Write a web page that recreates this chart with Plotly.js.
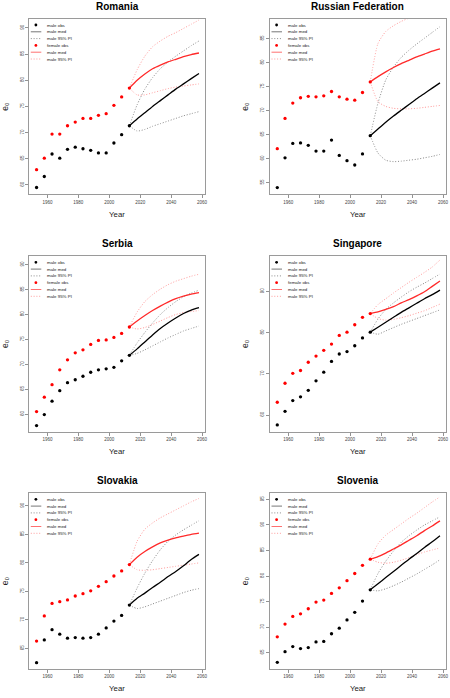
<!DOCTYPE html>
<html><head><meta charset="utf-8">
<script src="https://cdn.plot.ly/plotly-3.0.1.min.js"></script>
<style>html,body{margin:0;padding:0;background:#fff}#chart{width:450px;height:698px}</style>
</head><body><div id="chart"></div>
<script>
// ---- data ----
const obsYears  = [1953,1958,1963,1968,1973,1978,1983,1988,1993,1998,2003,2008,2013];
const projYears = [2013,2018,2023,2028,2033,2038,2043,2048,2053,2058];
const xTickVals = [1960,1980,2000,2020,2040,2060];

const countryNames = ['Romania','Russian Federation','Serbia','Singapore','Slovakia','Slovenia'];

const romaniaMaleObs    = [59.5,61.6,65.9,65.1,66.8,67.2,66.9,66.6,66.1,66.1,68.0,69.6,71.3];
const romaniaFemaleObs  = [62.9,65.1,69.7,69.7,71.3,72.0,72.7,72.7,73.3,73.6,75.2,76.8,78.5];
const romaniaMaleMed    = [71.3,72.6,73.8,75.0,76.1,77.2,78.3,79.3,80.3,81.3];
const romaniaMaleLow    = [71.3,70.3,70.6,71.2,71.7,72.2,72.7,73.2,73.6,74.0];
const romaniaMaleHigh   = [71.3,75.3,78.3,80.5,82.2,83.5,84.6,85.6,86.6,87.5];
const romaniaFemaleMed  = [78.5,80.0,81.2,82.2,82.9,83.5,84.0,84.5,84.9,85.2];
const romaniaFemaleLow  = [78.5,77.2,77.2,77.6,78.0,78.4,78.7,78.9,79.1,79.3];
const romaniaFemaleHigh = [78.5,82.0,84.6,86.4,87.5,88.4,89.1,89.9,90.7,91.5];

const russiaMaleObs    = [54.0,60.2,63.2,63.3,62.8,61.6,61.6,63.9,60.7,59.6,58.7,61.0,64.8];
const russiaFemaleObs  = [62.1,68.4,71.6,72.7,73.0,72.9,73.1,74.0,72.9,72.4,72.2,73.8,76.0];
const russiaMaleMed    = [64.8,66.2,67.6,68.9,70.1,71.3,72.5,73.6,74.7,75.8];
const russiaMaleLow    = [64.8,61.2,59.7,59.4,59.5,59.7,59.9,60.2,60.5,60.9];
const russiaMaleHigh   = [64.8,71.6,76.4,79.1,81.1,82.6,83.9,85.1,86.3,87.5];
const russiaFemaleMed  = [76.0,77.1,78.1,79.0,79.8,80.5,81.2,81.8,82.4,82.9];
const russiaFemaleLow  = [76.0,71.9,70.9,70.5,70.4,70.4,70.5,70.7,70.9,71.1];
const russiaFemaleHigh = [76.0,84.0,86.5,87.7,88.6,89.3,90.0,90.5,91.0,91.4];

const serbiaMaleObs    = [57.7,59.9,62.6,64.7,66.3,66.9,67.6,68.4,68.9,69.1,69.4,70.7,71.8];
const serbiaFemaleObs  = [60.5,63.4,65.9,68.9,70.9,72.3,72.9,74.0,74.8,74.9,75.4,76.2,77.5];
const serbiaMaleMed    = [71.8,73.1,74.5,75.9,77.2,78.3,79.3,80.2,80.9,81.4];
const serbiaMaleLow    = [71.8,72.2,72.9,73.7,74.5,75.3,76.0,76.7,77.2,77.7];
const serbiaMaleHigh   = [71.8,74.3,76.4,78.3,80.0,81.4,82.6,83.6,84.3,84.9];
const serbiaFemaleMed  = [77.5,78.7,79.8,80.8,81.7,82.5,83.2,83.7,84.1,84.4];
const serbiaFemaleLow  = [77.5,77.1,77.4,78.0,78.7,79.4,80.0,80.4,80.6,80.8];
const serbiaFemaleHigh = [77.5,80.5,82.6,84.0,85.1,86.0,86.7,87.2,87.7,88.1];

const singaporeMaleObs    = [57.6,60.9,63.5,64.4,66.0,68.3,70.4,73.0,74.8,75.4,76.8,78.7,80.1];
const singaporeFemaleObs  = [63.1,67.7,70.1,70.8,72.8,74.3,75.7,77.2,79.3,80.1,81.9,83.7,84.6];
const singaporeMaleMed    = [80.1,81.3,82.5,83.7,84.9,86.0,87.1,88.2,89.2,90.3];
const singaporeMaleLow    = [80.1,79.6,80.4,81.2,82.0,82.7,83.4,84.1,84.8,85.5];
const singaporeMaleHigh   = [80.1,83.3,85.6,87.2,88.6,89.9,91.0,92.0,93.1,94.2];
const singaporeFemaleMed  = [84.6,85.0,85.6,86.3,87.2,88.0,88.9,89.9,91.2,92.5];
const singaporeFemaleLow  = [84.6,83.4,83.0,83.2,83.6,84.1,84.7,85.3,86.1,86.9];
const singaporeFemaleHigh = [84.6,86.8,88.2,89.6,90.9,92.2,93.4,94.6,95.9,97.6];

const slovakiaMaleObs    = [62.5,66.5,68.3,67.5,66.8,66.9,66.8,66.9,67.5,68.6,69.8,70.8,72.6];
const slovakiaFemaleObs  = [66.3,70.7,72.9,73.2,73.5,74.2,74.6,75.1,75.9,76.7,77.7,78.6,79.7];
const slovakiaMaleMed    = [72.6,73.8,74.7,75.7,76.6,77.6,78.5,79.5,80.6,81.5];
const slovakiaMaleLow    = [72.6,72.0,72.3,72.8,73.3,73.8,74.3,74.8,75.2,75.5];
const slovakiaMaleHigh   = [72.6,75.6,78.2,80.4,82.3,83.8,84.9,85.8,86.6,87.4];
const slovakiaFemaleMed  = [79.7,81.0,82.0,82.8,83.5,84.0,84.4,84.7,85.0,85.2];
const slovakiaFemaleLow  = [79.7,78.8,78.7,78.8,79.0,79.2,79.4,79.6,79.8,80.0];
const slovakiaFemaleHigh = [79.7,83.8,85.9,87.0,87.9,88.6,89.3,90.0,90.7,91.3];

const sloveniaMaleObs    = [63.1,65.2,66.2,65.8,66.0,67.1,67.2,68.7,69.8,71.4,72.9,75.1,77.3];
const sloveniaFemaleObs  = [68.1,70.6,72.1,72.6,73.6,74.9,75.3,76.6,77.7,79.1,80.5,82.1,83.3];
const sloveniaMaleMed    = [77.3,78.5,79.7,80.9,82.1,83.3,84.4,85.6,86.7,87.9];
const sloveniaMaleLow    = [77.3,77.1,77.5,78.1,78.8,79.6,80.4,81.3,82.2,83.2];
const sloveniaMaleHigh   = [77.3,80.5,82.9,84.9,86.6,87.9,89.0,90.0,90.8,91.6];
const sloveniaFemaleMed  = [83.3,83.8,84.5,85.3,86.1,87.0,87.9,88.9,89.8,90.8];
const sloveniaFemaleLow  = [83.3,82.7,82.5,82.7,83.1,83.6,84.2,84.7,85.1,85.5];
const sloveniaFemaleHigh = [83.3,86.3,88.0,89.1,90.2,91.3,92.3,93.4,94.5,95.5];

const yRanges = [[58.2,91.7],[52.6,89.1],[56.5,91.7],[56.0,98.5],[61.4,92.2],[61.8,96.2]];
const yTickVals = [
  [60,65,70,75,80,85,90],[55,60,65,70,75,80,85],[60,65,70,75,80,85,90],
  [60,70,80,90],[65,70,75,80,85,90],[65,70,75,80,85,90,95]
];
const legendLabels = ['male obs','male med','male 95% PI','female obs','male med','male 95% PI'];

// ---- build ----
const countries = [
  [romaniaMaleObs,romaniaFemaleObs,romaniaMaleMed,romaniaMaleLow,romaniaMaleHigh,romaniaFemaleMed,romaniaFemaleLow,romaniaFemaleHigh],
  [russiaMaleObs,russiaFemaleObs,russiaMaleMed,russiaMaleLow,russiaMaleHigh,russiaFemaleMed,russiaFemaleLow,russiaFemaleHigh],
  [serbiaMaleObs,serbiaFemaleObs,serbiaMaleMed,serbiaMaleLow,serbiaMaleHigh,serbiaFemaleMed,serbiaFemaleLow,serbiaFemaleHigh],
  [singaporeMaleObs,singaporeFemaleObs,singaporeMaleMed,singaporeMaleLow,singaporeMaleHigh,singaporeFemaleMed,singaporeFemaleLow,singaporeFemaleHigh],
  [slovakiaMaleObs,slovakiaFemaleObs,slovakiaMaleMed,slovakiaMaleLow,slovakiaMaleHigh,slovakiaFemaleMed,slovakiaFemaleLow,slovakiaFemaleHigh],
  [sloveniaMaleObs,sloveniaFemaleObs,sloveniaMaleMed,sloveniaMaleLow,sloveniaMaleHigh,sloveniaFemaleMed,sloveniaFemaleLow,sloveniaFemaleHigh]
];

const W = 450, H = 698;
const colDom = [[29.3/W, 204.7/W],[270/W, 445.7/W]];
const rowDom = [[1-194.3/H, 1-19/H],[1-431.5/H, 1-256.3/H],[1-669/H, 1-493.3/H]];

const BLACK='#000000', GRAY='#8a8a8a', RED='#ff0000', REDLINE='#ff2a2a', PINK='#ff9c9c';
const DOTS = '1px,1.8px';
const FONT = 'Liberation Sans, Arial, Helvetica, sans-serif';

const data = [];
const layout = {
  width: W, height: H, margin:{l:0,r:0,t:0,b:0},
  paper_bgcolor:'#fff', plot_bgcolor:'#fff', showlegend:false,
  font:{family:FONT, color:'#000'},
  annotations:[], shapes:[]
};

countries.forEach((c, i) => {
  const [mObs,fObs,mMed,mLow,mHigh,fMed,fLow,fHigh] = c;
  const r = Math.floor(i/2), col = i%2;
  const xn = i===0 ? 'x' : 'x'+(i+1);
  const yn = i===0 ? 'y' : 'y'+(i+1);
  const xk = i===0 ? 'xaxis' : 'xaxis'+(i+1);
  const yk = i===0 ? 'yaxis' : 'yaxis'+(i+1);
  const line = (y, color, width, dash) => ({
    type:'scatter', mode:'lines', x:projYears, y:y, xaxis:xn, yaxis:yn,
    line:{color:color, width:width, dash:dash, shape:'spline', smoothing:0.6}, hoverinfo:'skip'
  });
  data.push(line(fLow, PINK, 1, DOTS));
  data.push(line(fHigh, PINK, 1, DOTS));
  data.push(line(mLow, GRAY, 1, DOTS));
  data.push(line(mHigh, GRAY, 1, DOTS));
  data.push(line(mMed, BLACK, 1.3, 'solid'));
  data.push(line(fMed, REDLINE, 1.3, 'solid'));
  data.push({type:'scatter', mode:'markers', x:obsYears, y:mObs, xaxis:xn, yaxis:yn,
    marker:{color:BLACK, size:3.3}, hoverinfo:'skip'});
  data.push({type:'scatter', mode:'markers', x:obsYears, y:fObs, xaxis:xn, yaxis:yn,
    marker:{color:RED, size:3.3}, hoverinfo:'skip'});

  layout[xk] = {
    domain: colDom[col], anchor: yn, range:[1948.3, 2061.7],
    tickmode:'array', tickvals:xTickVals, ticks:'outside', ticklen:3, tickwidth:0.8, tickcolor:'#777',
    tickfont:{size:4.5, color:'#444', family:FONT},
    showline:true, mirror:true, linecolor:'#9a9a9a', linewidth:1,
    showgrid:false, zeroline:false,
    title:{text:'Year', font:{size:7.8, color:'#222', family:FONT}, standoff:7}
  };
  layout[yk] = {
    domain: rowDom[r], anchor: xn, range: yRanges[i],
    tickmode:'array', tickvals:yTickVals[i], ticks:'outside', ticklen:3, tickwidth:0.8, tickcolor:'#777',
    tickangle:-90, tickfont:{size:4.5, color:'#444', family:FONT},
    showline:true, mirror:true, linecolor:'#9a9a9a', linewidth:1,
    showgrid:false, zeroline:false,
    title:{text:'e\u2080', font:{size:8.5, color:'#222', family:FONT}, standoff:10}
  };

  // panel title
  layout.annotations.push({
    text: countryNames[i], xref: xn+' domain', yref: yn+' domain', x:0.5, y:1,
    xanchor:'center', yanchor:'middle', yshift:13, showarrow:false,
    font:{size:10, family:FONT, weight:'bold', color:'#000'}
  });

  // legend (manual, compact like the original)
  const legColors = [BLACK, '#777', GRAY, RED, '#ff7070', PINK];
  const legKind = ['dot','line','dash','dot','line','dash'];
  legendLabels.forEach((lab, k) => {
    const off = 6 + 6.8*k;
    if (legKind[k]==='dot') {
      layout.shapes.push({type:'circle', xref:xn+' domain', yref:yn+' domain',
        xsizemode:'pixel', ysizemode:'pixel', xanchor:0, yanchor:1,
        x0:5.2, x1:8, y0:-off-1.4, y1:-off+1.4,
        fillcolor:legColors[k], line:{width:0}});
    } else {
      layout.shapes.push({type:'line', xref:xn+' domain', yref:yn+' domain',
        xsizemode:'pixel', ysizemode:'pixel', xanchor:0, yanchor:1,
        x0:1.5, x1:12, y0:-off, y1:-off,
        line:{color:legColors[k], width:1, dash: legKind[k]==='dash' ? DOTS : 'solid'}});
    }
    layout.annotations.push({
      text: lab, xref: xn+' domain', yref: yn+' domain', x:0, y:1,
      xanchor:'left', yanchor:'middle', xshift:16, yshift:-off, showarrow:false,
      font:{size:4.4, family:FONT, color:'#222'}
    });
  });
});

Plotly.newPlot('chart', data, layout, {staticPlot:true, displayModeBar:false});
</script>
</body></html>
